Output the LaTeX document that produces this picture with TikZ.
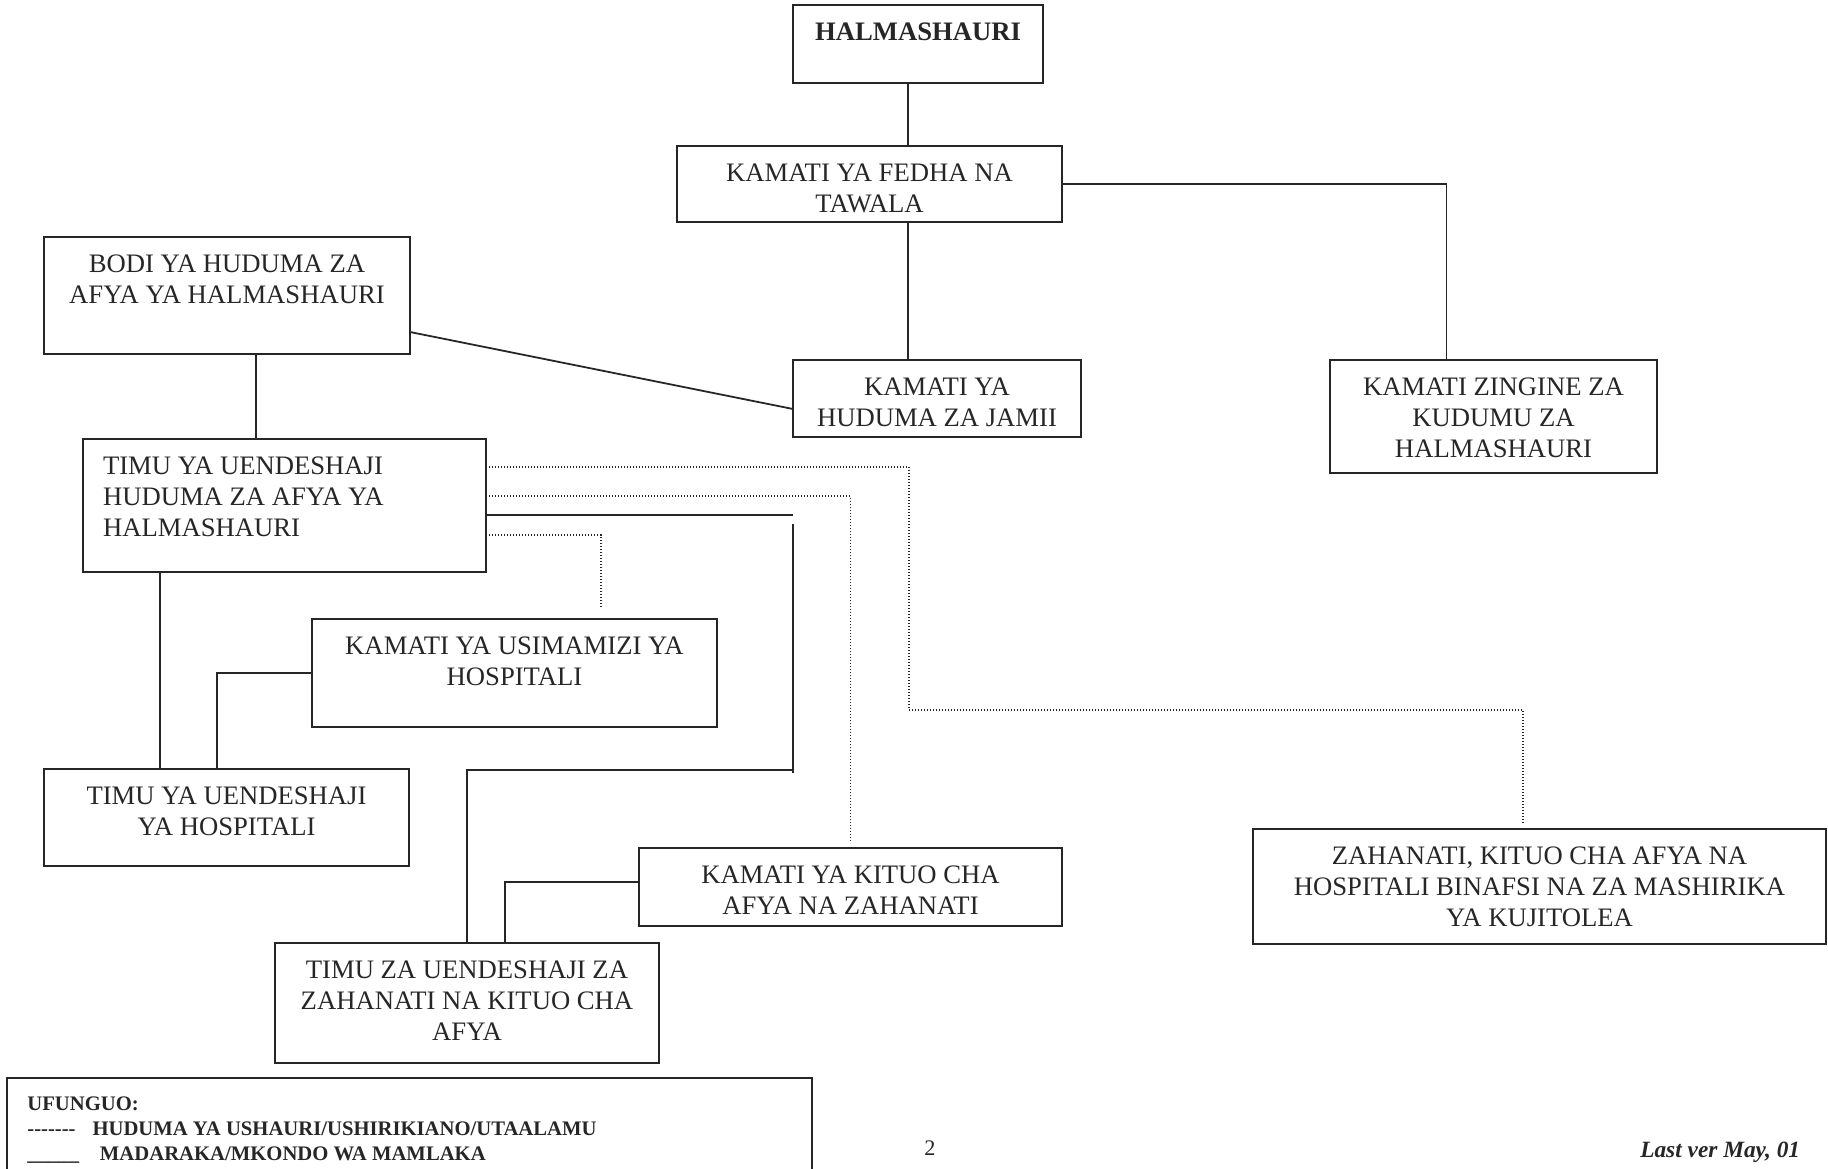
\documentclass[tikz,border=0pt]{standalone}
\usepackage{fontspec}
\setmainfont{Liberation Serif}
\usetikzlibrary{calc}
\newcommand{\fs}{\fontsize{12}{14}\selectfont}
\newcommand{\bt}[4][\centering]{\parbox[c][#3][t]{#2}{#1\rule{0pt}{16pt}#4}}
\tikzset{box/.style={draw,line width=.8pt,inner sep=0pt,outer sep=0pt,anchor=north west},
 wire/.style={line width=.8pt},
 adv/.style={line width=.6pt,dash pattern=on .5pt off .85pt},
 every node/.style={font=\fs}}
\begin{document}
\begin{tikzpicture}[x=.45pt,y=-.45pt,color=black!85]
\useasboundingbox (0,0) rectangle (1828,1169);
\node[box] (hal) at (793,5) {\bt{112.5pt}{35.1pt}{\textbf{HALMASHAURI}}};
\node[box] (fedha) at (677,146) {\bt{173.25pt}{34.2pt}{KAMATI YA FEDHA NA\\TAWALA}};
\node[box] (bodi) at (44,237) {\bt{164.7pt}{52.65pt}{BODI YA HUDUMA ZA\\AFYA YA HALMASHAURI}};
\node[box] (jamii) at (793,360) {\bt{129.6pt}{34.65pt}{KAMATI YA\\HUDUMA ZA JAMII}};
\node[box] (zingine) at (1330,360) {\bt{147.15pt}{50.85pt}{KAMATI ZINGINE ZA\\KUDUMU ZA\\HALMASHAURI}};
\node[box] (timu) at (83,439) {\bt[\raggedright\leftskip=9pt\relax]{181.35pt}{59.85pt}{TIMU YA UENDESHAJI\\HUDUMA ZA AFYA YA\\HALMASHAURI}};
\node[box] (usim) at (312,619) {\bt{182.25pt}{48.6pt}{KAMATI YA USIMAMIZI YA\\HOSPITALI}};
\node[box] (hosp) at (44,769) {\bt{164.25pt}{43.65pt}{TIMU YA UENDESHAJI\\YA HOSPITALI}};
\node[box] (zah) at (1253,829) {\bt{257.85pt}{51.75pt}{ZAHANATI, KITUO CHA AFYA NA\\HOSPITALI BINAFSI NA ZA MASHIRIKA\\YA KUJITOLEA}};
\node[box] (kituo) at (639,848) {\bt{190.35pt}{35.1pt}{KAMATI YA KITUO CHA\\AFYA NA ZAHANATI}};
\node[box] (timuza) at (275,943) {\bt{172.8pt}{54pt}{TIMU ZA UENDESHAJI ZA\\ZAHANATI NA KITUO CHA\\AFYA}};
% ufunguo
\node[box,minimum width=362.3pt,minimum height=50pt] (key) at (7,1078) {};
\node[anchor=north west,inner sep=0pt,align=left,font=\fontsize{9.3}{11.25}\selectfont\bfseries] (keytxt) at ($(key.north west)+(20,18)$)
 {UFUNGUO:\\-{}-{}-{}-{}-{}-{}-\hspace{7.6pt}HUDUMA YA USHAURI/USHIRIKIANO/UTAALAMU\\\_\_\_\_\_\hspace{9.4pt}MADARAKA/MKONDO WA MAMLAKA};
\node[font=\fontsize{10}{12}\selectfont,anchor=base] (pg) at (930,1155) {2};
\node[font=\fontsize{10.5}{12}\selectfont\bfseries\itshape,anchor=base east] (ver) at (1808,1157) {Last ver May, 01};
% mamlaka
\coordinate (s) at ($(hal.south)+(-10,0)$);
\draw[wire] (s) -- (s |- fedha.north);
\draw[wire] (s |- fedha.south) -- (s |- jamii.north);
\draw[wire] (fedha.east) -| ($(zingine.north)+(-47,0)$);
\draw[wire] ($(bodi.south east)+(0,-22)$) -- ($(jamii.south west)+(0,-28)$);
\draw[wire] ($(bodi.south)+(29,0)$) -- ($(timu.north)+(-28.5,0)$);
\draw[wire] ($(timu.south)+(-124.5,0)$) -- ($(hosp.north)+(-66.5,0)$);
\draw[wire] (usim.west) -| ($(hosp.north)+(-9.5,0)$);
\coordinate (m) at ($(timu.east)+(307,9.5)$);
\draw[wire] ($(timu.east)+(0,9.5)$) -- (m);
\draw[wire] ($(m)+(0,9)$) -- ($(m)+(0,258)$);
\draw[wire] ($(m)+(0,255)$) -| (timuza.north);
\draw[wire] ($(kituo.west)+(0,-5)$) -| ($(timuza.north)+(38,0)$);
% ushauri
\coordinate (bend) at (909,710);
\draw[adv] ($(timu.north east)+(3,28)$) -| (bend) -| ($(zah.north)+(-16.5,-6)$);
\draw[adv] ($(timu.north east)+(3,57)$) -| ($(kituo.north)+(0,-6)$);
\draw[adv] ($(timu.north east)+(3,96)$) -| ($(usim.north)+(86.5,-11)$);
\end{tikzpicture}
\end{document}
